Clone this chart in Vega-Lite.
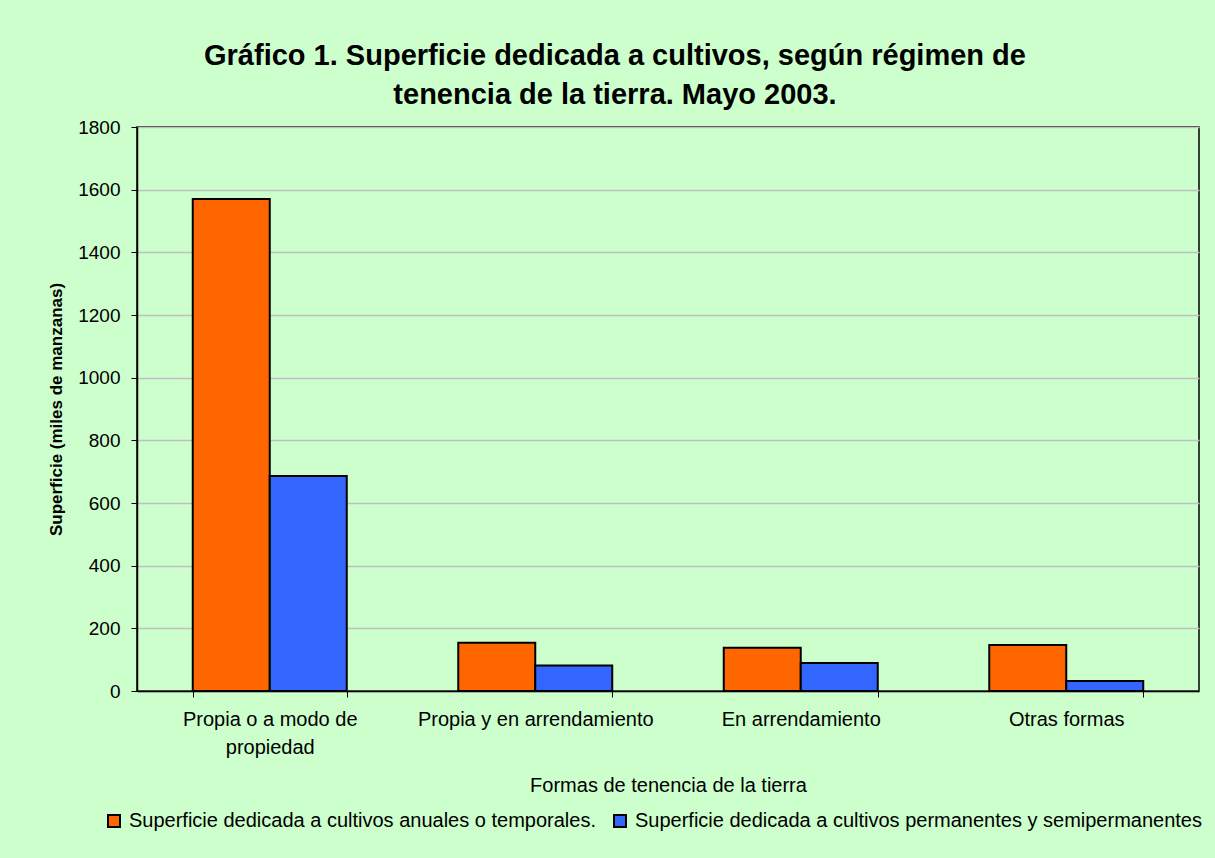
{
  "$schema": "https://vega.github.io/schema/vega-lite/v6.json",
  "width": 1062,
  "height": 564,
  "autosize": {"type": "none"},
  "padding": {"left": 137, "top": 127, "right": 16, "bottom": 167},
  "background": "#CCFFCC",
  "title": {
    "text": ["Gráfico 1. Superficie dedicada a cultivos, según  régimen de", "tenencia de la tierra. Mayo 2003."],
    "font": "Liberation Sans",
    "fontSize": 29,
    "fontWeight": "bold",
    "lineHeight": 39,
    "anchor": "middle",
    "dx": -53,
    "offset": 8,
    "color": "black"
  },
  "data": {
    "values": [
      {"forma": "Propia o a modo de propiedad", "tipo": "Superficie dedicada a cultivos  anuales o temporales.", "valor": 1570},
      {"forma": "Propia o a modo de propiedad", "tipo": "Superficie dedicada a cultivos permanentes y semipermanentes", "valor": 686},
      {"forma": "Propia y en arrendamiento", "tipo": "Superficie dedicada a cultivos  anuales o temporales.", "valor": 154},
      {"forma": "Propia y en arrendamiento", "tipo": "Superficie dedicada a cultivos permanentes y semipermanentes", "valor": 81},
      {"forma": "En arrendamiento", "tipo": "Superficie dedicada a cultivos  anuales o temporales.", "valor": 138},
      {"forma": "En arrendamiento", "tipo": "Superficie dedicada a cultivos permanentes y semipermanentes", "valor": 89},
      {"forma": "Otras formas", "tipo": "Superficie dedicada a cultivos  anuales o temporales.", "valor": 147},
      {"forma": "Otras formas", "tipo": "Superficie dedicada a cultivos permanentes y semipermanentes", "valor": 32}
    ]
  },
  "mark": {"type": "bar", "stroke": "black", "strokeWidth": 2},
  "encoding": {
    "x": {
      "field": "forma",
      "type": "nominal",
      "sort": ["Propia o a modo de propiedad", "Propia y en arrendamiento", "En arrendamiento", "Otras formas"],
      "scale": {"paddingInner": 0.42, "paddingOuter": 0.21},
      "axis": {
        "title": "Formas de tenencia de la tierra",
        "titleFont": "Liberation Sans",
        "titleFontSize": 20,
        "titleFontWeight": "normal",
        "titleColor": "black",
        "titlePadding": 18,
        "labelFont": "Liberation Sans",
        "labelFontSize": 20,
        "labelColor": "black",
        "labelAngle": 0,
        "labelPadding": 12,
        "labelLineHeight": 28,
        "labelExpr": "datum.value == 'Propia o a modo de propiedad' ? ['Propia o a modo de', 'propiedad'] : datum.value",
        "domainColor": "black",
        "domainWidth": 1.5,
        "tickColor": "black",
        "tickSize": 6,
        "tickBand": "extent",
        "labelLimit": 400
      }
    },
    "xOffset": {"field": "tipo", "type": "nominal"},
    "y": {
      "field": "valor",
      "type": "quantitative",
      "scale": {"domain": [0, 1800], "nice": false},
      "axis": {
        "title": "Superficie (miles de manzanas)",
        "titleFont": "Liberation Sans",
        "titleFontSize": 17,
        "titleFontWeight": "bold",
        "titleColor": "black",
        "titlePadding": 12,
        "values": [0, 200, 400, 600, 800, 1000, 1200, 1400, 1600, 1800],
        "format": "d",
        "labelFont": "Liberation Sans",
        "labelFontSize": 19,
        "labelColor": "black",
        "labelPadding": 11,
        "domainColor": "black",
        "domainWidth": 1.5,
        "tickColor": "black",
        "tickSize": 6,
        "gridColor": "#C0C0C0",
        "gridWidth": 1.5
      }
    },
    "color": {
      "field": "tipo",
      "type": "nominal",
      "scale": {
        "domain": ["Superficie dedicada a cultivos  anuales o temporales.", "Superficie dedicada a cultivos permanentes y semipermanentes"],
        "range": ["#FF6600", "#3366FF"]
      },
      "legend": {
        "title": null,
        "orient": "none",
        "direction": "horizontal",
        "legendX": -33,
        "legendY": 684,
        "symbolType": "square",
        "symbolSize": 144,
        "symbolStrokeColor": "black",
        "symbolStrokeWidth": 2,
        "labelFont": "Liberation Sans",
        "labelFontSize": 20,
        "labelColor": "black",
        "labelLimit": 700,
        "columnPadding": 8,
        "labelOffset": 5
      }
    }
  },
  "config": {
    "view": {"stroke": "black", "strokeWidth": 1.5},
    "legend": {"symbolOpacity": 1}
  }
}
